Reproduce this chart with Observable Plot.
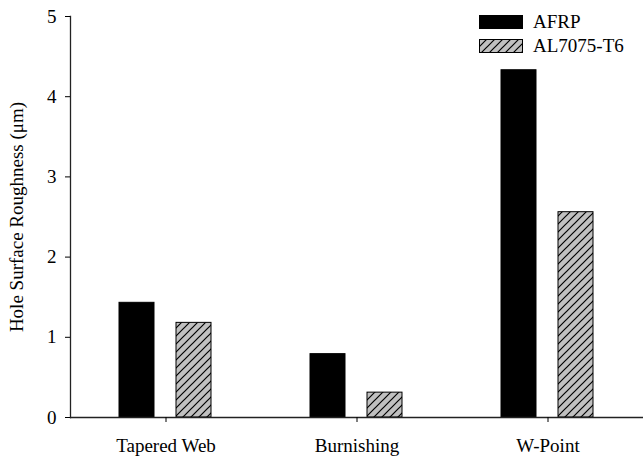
<!DOCTYPE html>
<html><head><meta charset="utf-8">
<script src="https://cdn.jsdelivr.net/npm/d3@7"></script>
<script src="https://cdn.jsdelivr.net/npm/@observablehq/plot@0.6"></script>
<style>
body{margin:0;background:#fff;}
#wrap{position:relative;width:643px;height:457px;font-family:"Liberation Serif","Times New Roman",serif;color:#000;}
#wrap svg text{font-family:"Liberation Serif","Times New Roman",serif;}
.leg{position:absolute;left:479px;display:flex;align-items:center;font-size:19px;}
</style></head><body>
<svg width="0" height="0" style="position:absolute"><defs>
<pattern id="hatch" patternUnits="userSpaceOnUse" width="8" height="8">
<rect width="8" height="8" fill="#c0c0c0"/>
<path d="M-2,2 L2,-2 M0,8 L8,0 M6,10 L10,6" stroke="#000" stroke-width="1.2"/>
</pattern></defs></svg>
<div id="wrap"></div>
<script>
const categories = ["Tapered Web", "Burnishing", "W-Point"];
const series = ["AFRP", "AL7075-T6"];
const afrp = [1.43, 0.79, 4.33];
const al7075 = [1.18, 0.31, 2.56];
const yTicks = [0, 1, 2, 3, 4, 5];
const yLabel = "Hole Surface Roughness (μm)";
const serif = '"Liberation Serif","Times New Roman",serif';

const data = categories.flatMap((c, i) => [
  {cat: c, series: series[0], value: afrp[i]},
  {cat: c, series: series[1], value: al7075[i]}
]);

const plot = Plot.plot({
  width: 643, height: 457,
  marginLeft: 70, marginRight: 0, marginTop: 16, marginBottom: 40,
  style: {fontFamily: serif, fontSize: "19px", color: "#000", background: "white"},
  fx: {domain: categories, padding: 0, label: null},
  x: {domain: series, paddingInner: 0.382, paddingOuter: 0.86, axis: null},
  y: {domain: [0, 5]},
  marks: [
    Plot.barY(data.filter(d => d.series === series[0]), {fx: "cat", x: "series", y: "value", fill: "black", stroke: "black"}),
    Plot.barY(data.filter(d => d.series === series[1]), {fx: "cat", x: "series", y: "value", fill: "url(#hatch)", stroke: "black", strokeWidth: 1}),
    Plot.ruleY([0], {stroke: "#222", strokeWidth: 1.3}),
    Plot.frame({anchor: "left", facetAnchor: "left", stroke: "#222", strokeWidth: 1.3}),
    Plot.axisY(yTicks, {tickSize: 5, tickPadding: 9, tickFormat: d => String(d), fontFamily: serif, fontSize: 19, fontVariant: "normal", label: yLabel, labelAnchor: "center", labelArrow: "none", labelOffset: 61}),
    Plot.axisFx({anchor: "bottom", tickSize: 5, tickPadding: 16, fontFamily: serif, fontSize: 19, label: null})
  ]
});
const wrap = document.getElementById("wrap");
wrap.appendChild(plot);
[["black", series[0], 15], ["url(#hatch)", series[1], 39]].forEach(([f, name, top]) => {
  const row = document.createElement("div");
  row.className = "leg";
  row.style.top = (top - 3) + "px";
  row.style.height = "19px";
  const sw = document.createElementNS("http://www.w3.org/2000/svg", "svg");
  sw.setAttribute("width", 44); sw.setAttribute("height", 14);
  sw.style.marginRight = "10px";
  const r = document.createElementNS("http://www.w3.org/2000/svg", "rect");
  r.setAttribute("x", 0.5); r.setAttribute("y", 0.5); r.setAttribute("width", 43); r.setAttribute("height", 13);
  r.setAttribute("fill", f); r.setAttribute("stroke", "#000");
  sw.appendChild(r);
  row.appendChild(sw);
  const t = document.createElement("span");
  t.textContent = name;
  row.appendChild(t);
  wrap.appendChild(row);
});
</script>
</body></html>
